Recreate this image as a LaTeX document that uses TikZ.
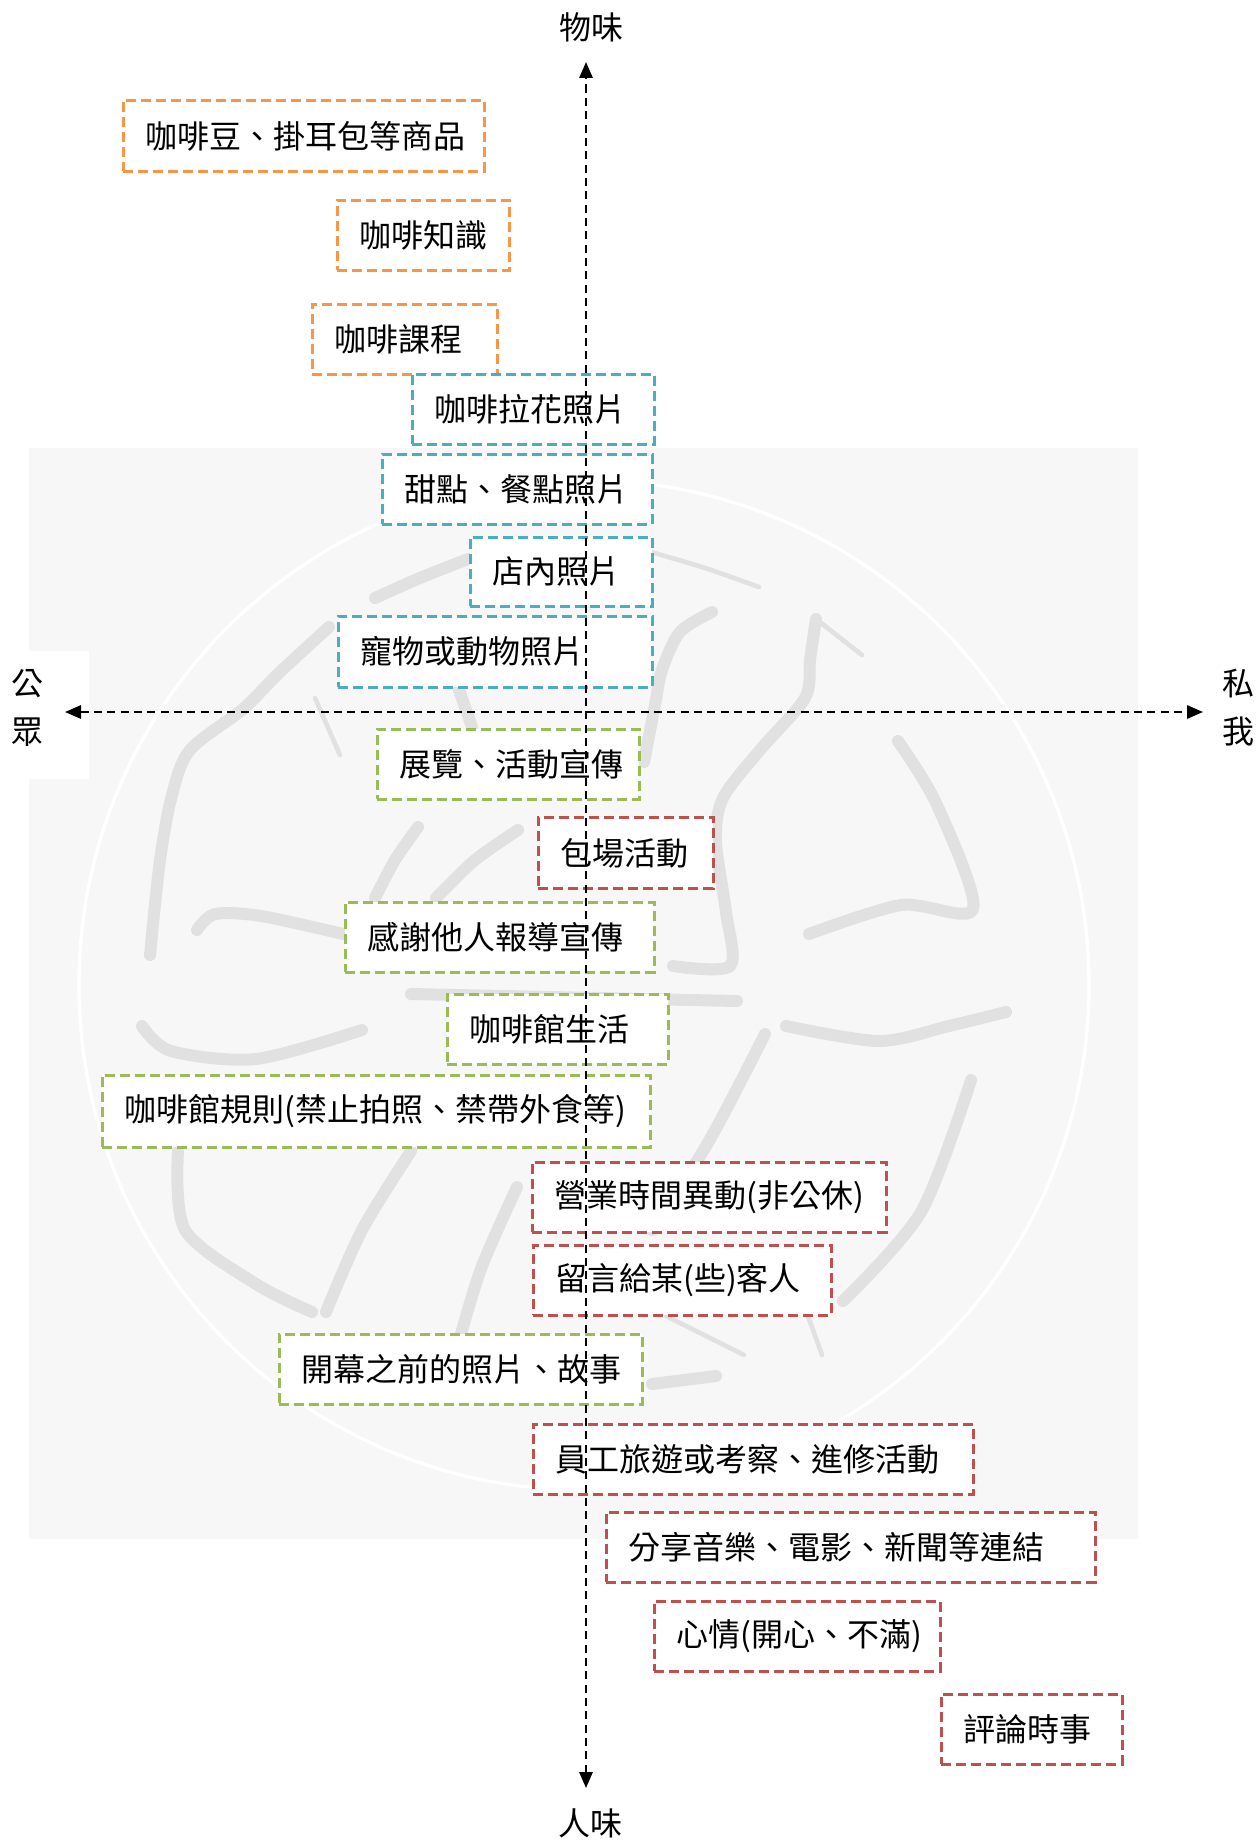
\documentclass[tikz,border=0pt]{standalone}
\usepackage{fontspec}
\newfontfamily\cjk{Noto Sans CJK TC}
\usetikzlibrary{arrows.meta}
\definecolor{bgc}{HTML}{F7F7F7}
\definecolor{wm}{HTML}{E1E1E1}
\definecolor{cor}{HTML}{F79646}
\definecolor{cbl}{HTML}{4BACC6}
\definecolor{cgr}{HTML}{9BBB59}
\definecolor{crd}{HTML}{C0504D}
\newcommand\mybox[7]{%
  \pgfmathsetmacro\mybw{(#4-#2)*0.75}%
  \pgfmathsetmacro\mybh{(#5-#3)*0.75}%
  \pgfmathsetmacro\mytw{(#4-#2-44)*0.75}%
  \node[box, draw=#6, minimum width=\mybw pt, minimum height=\mybh pt, text width=\mytw pt] (#1) at (#2,#3) {#7};}
\begin{document}
\begin{tikzpicture}[x=0.75pt,y=-0.75pt,
  lbl/.style={font=\cjk\fontsize{24pt}{36pt}\selectfont, inner sep=0pt, align=center},
  box/.style={font=\cjk\fontsize{24pt}{28pt}\selectfont, anchor=north west, fill=white,
    line width=2pt, dash pattern=on 7.5pt off 3.75pt, inner xsep=16.5pt, inner ysep=0pt, align=left},
  axis/.style={line width=1.5pt, dash pattern=on 6pt off 4pt,
    {Triangle[length=12pt,width=10pt]}-{Triangle[length=12pt,width=10pt]}},
  wmk/.style={draw=wm, line width=9pt, line cap=round, line join=round},
  wmt/.style={draw=wm, line width=3.5pt, line cap=round, line join=round}]
\useasboundingbox (0,0) rectangle (1259,1841);
\fill[white] (0,0) rectangle (1259,1841);
% background panel with watermark
\fill[bgc] (29,448) rectangle (1138,1539);
\draw[white, line width=2.5pt] (584,985) circle[radius=505];
\draw[wmk] plot[smooth] coordinates {(375,598) (420,578) (468,559)};
\draw[wmk] plot[smooth] coordinates {(329,627) (280,672) (243,709) (190,750) (172,795) (160,860) (150,955)};
\draw[wmk] plot[smooth] coordinates {(375,898) (395,860) (418,827)};
\draw[wmk] plot[smooth] coordinates {(436,898) (475,860) (518,830)};
\draw[wmk] plot[smooth] coordinates {(197,930) (215,914) (261,916) (343,934)};
\draw[wmk] plot[smooth] coordinates {(458,687) (472,727)};
\draw[wmt] plot[smooth] coordinates {(315,698) (340,755)};
\draw[wmt] plot[smooth] coordinates {(651,552) (705,568) (759,587)};
\draw[wmk] plot[smooth] coordinates {(712,612) (680,632) (662,670) (655,705) (644,762)};
\draw[wmk] plot[smooth] coordinates {(816,619) (810,660) (805,698) (760,750) (723,798) (716,841) (726,912) (730,966) (673,966)};
\draw[wmt] plot[smooth] coordinates {(816,619) (862,655)};
\draw[wmk] plot[smooth] coordinates {(898,741) (937,805) (973,909) (901,905) (809,934)};
\draw[wmk] plot[smooth] coordinates {(142,1026) (171,1051) (256,1059) (362,1030)};
\draw[wmk] plot[smooth] coordinates {(411,994) (737,1001)};
\draw[wmk] plot[smooth] coordinates {(786,1026) (879,1041) (949,1026) (1006,1012)};
\draw[wmk] plot[smooth] coordinates {(765,1034) (709,1141) (652,1230)};
\draw[wmk] plot[smooth] coordinates {(971,1080) (921,1212) (843,1301)};
\draw[wmk] plot[smooth] coordinates {(178,1151) (185,1230) (256,1284) (312,1312)};
\draw[wmk] plot[smooth] coordinates {(411,1151) (362,1230) (326,1312)};
\draw[wmk] plot[smooth] coordinates {(517,1187) (482,1266) (461,1334)};
\draw[wmk] plot[smooth] coordinates {(652,1384) (716,1376)};
\draw[wmt] plot[smooth] coordinates {(666,1316) (744,1355)};
\draw[wmt] plot[smooth] coordinates {(808,1316) (822,1355)};
\fill[white] (0,651) rectangle (89,779);
% boxes
\mybox{b1}{122}{99}{483}{170}{cor}{咖啡豆、掛耳包等商品}
\mybox{b2}{336}{199}{508}{269}{cor}{咖啡知識}
\mybox{b3}{311}{303}{496}{373}{cor}{咖啡課程}
\mybox{b4}{411}{373}{653}{443}{cbl}{咖啡拉花照片}
\mybox{b5}{381}{453}{651}{523}{cbl}{甜點、餐點照片}
\mybox{b6}{469}{536}{651}{605}{cbl}{店內照片}
\mybox{b7}{337}{615}{651}{686}{cbl}{寵物或動物照片}
\mybox{b8}{376}{728}{638}{798}{cgr}{展覽、活動宣傳}
\mybox{b9}{537}{816}{712}{887}{crd}{包場活動}
\mybox{b10}{344}{901}{653}{971}{cgr}{感謝他人報導宣傳}
\mybox{b11}{446}{993}{667}{1063}{cgr}{咖啡館生活}
\mybox{b12}{101}{1074}{649}{1146}{cgr}{咖啡館規則(禁止拍照、禁帶外食等)}
\mybox{b13}{531}{1161}{885}{1231}{crd}{營業時間異動(非公休)}
\mybox{b14}{532}{1244}{830}{1314}{crd}{留言給某(些)客人}
\mybox{b15}{278}{1333}{641}{1403}{cgr}{開幕之前的照片、故事}
\mybox{b16}{532}{1423}{972}{1493}{crd}{員工旅遊或考察、進修活動}
\mybox{b17}{605}{1511}{1094}{1581}{crd}{分享音樂、電影、新聞等連結}
\mybox{b18}{653}{1600}{939}{1670}{crd}{心情(開心、不滿)}
\mybox{b19}{940}{1693}{1121}{1763}{crd}{評論時事}
% axes
\coordinate (top) at (586,62);
\coordinate (bot) at (586,1788);
\coordinate (lft) at (65,712);
\coordinate (rgt) at (1203,712);
\draw[axis] (bot) -- (top);
\draw[axis] (lft) -- (rgt);
% axis labels
\node[lbl] (ltop) at (591,27) {物味};
\node[lbl] (lbot) at (590,1823) {人味};
\node[lbl] (lleft) at (28,708) {公\\眾};
\node[lbl] (lright) at (1238,708) {私\\我};
\end{tikzpicture}
\end{document}
